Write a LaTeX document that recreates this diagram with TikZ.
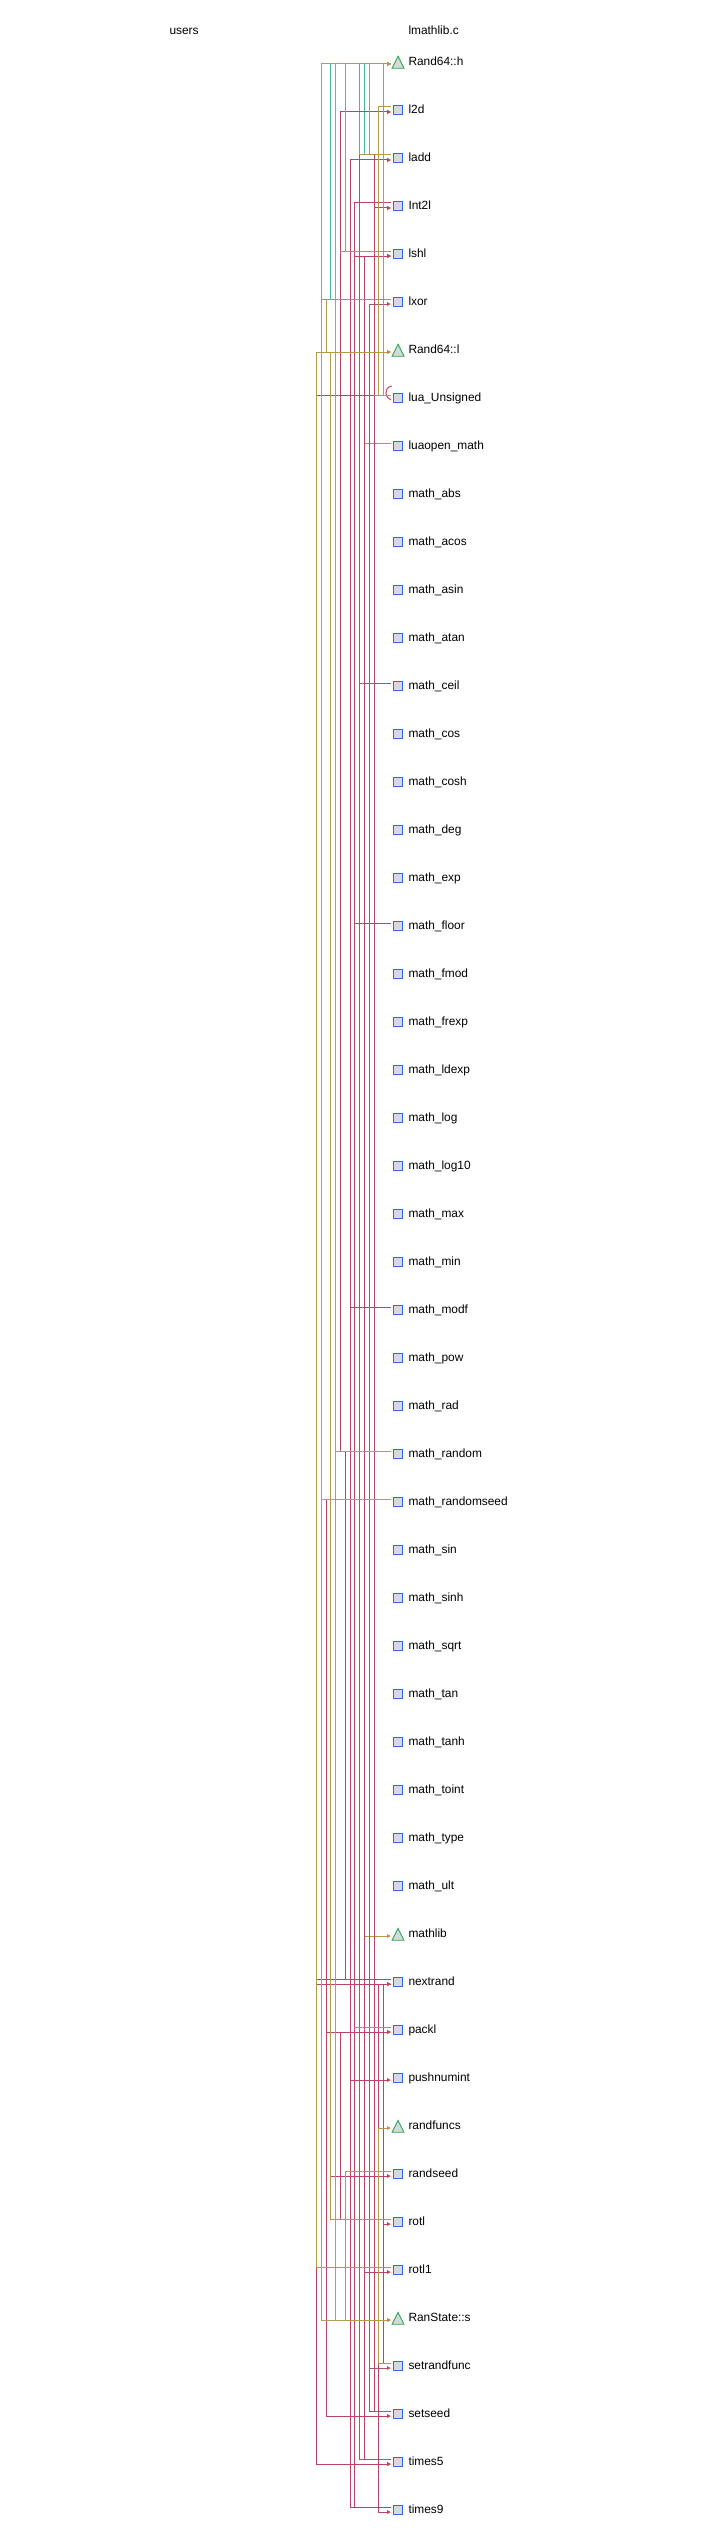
\documentclass[tikz,border=0pt]{standalone}
\usepackage{fontspec}
\setmainfont{Liberation Sans}
\usetikzlibrary{arrows.meta,shapes.geometric}

\definecolor{linegold}{HTML}{B59A45}
\definecolor{linegrey}{HTML}{B0A060}
\definecolor{linered}{HTML}{BB4466}
\definecolor{linemauve}{HTML}{A8556C}
\definecolor{linegreen}{HTML}{44BB99}
\definecolor{boxblue}{HTML}{3366FF}
\definecolor{trigreen}{HTML}{22AA55}
\definecolor{rowfill}{HTML}{D8D8D8}

\tikzset{
    rowbox/.style={draw=boxblue, fill=rowfill, line width=0.9pt, minimum size=9pt, inner sep=0pt},
    rowtri/.style={draw=trigreen, fill=rowfill, line width=0.9pt, isosceles triangle, shape border rotate=90,
        isosceles triangle stretches, minimum width=12pt, minimum height=12pt, inner sep=0pt,
        anchor=lower side, yshift=-7.2pt},
    rowtext/.style={anchor=base west, inner sep=0pt, font=\fontsize{11.9}{14}\selectfont},
    wire/.style={line width=1pt},
    wiretip/.style={wire, -{Latex[length=4pt,width=4.5pt]}},
}

\begin{document}
\begin{tikzpicture}[x=1pt,y=-1pt]
    \useasboundingbox (0,0) rectangle (720,2542);
    % headers
    \node[rowtext] (users) at (169.3,35) {users};
    \node[rowtext] (file) at (408.3,35) {lmathlib.c};
    % tracks
    \foreach \trk/\x in {A/316.3,B/321.3,C/326.3,D/330.3,E/335.3,F/340.3,G/345.3,H/350.3,
        I/354.3,J/359.3,K/364.3,L/369.3,M/374.3,N/378.3,O/383.3}
        \coordinate (t\trk) at (\x,0);
    % rows
    \foreach \name/\txt/\kind [count=\i from 0] in {
        randh/Rand64::h/rowtri, l2d/l2d/rowbox, ladd/ladd/rowbox, Int2l/Int2l/rowbox, lshl/lshl/rowbox,
        lxor/lxor/rowbox, randl/Rand64::l/rowtri, unsigned/lua\_Unsigned/rowbox, luaopen/luaopen\_math/rowbox,
        mabs/math\_abs/rowbox, macos/math\_acos/rowbox, masin/math\_asin/rowbox, matan/math\_atan/rowbox,
        mceil/math\_ceil/rowbox, mcos/math\_cos/rowbox, mcosh/math\_cosh/rowbox, mdeg/math\_deg/rowbox,
        mexp/math\_exp/rowbox, mfloor/math\_floor/rowbox, mfmod/math\_fmod/rowbox, mfrexp/math\_frexp/rowbox,
        mldexp/math\_ldexp/rowbox, mlog/math\_log/rowbox, mlogten/math\_log10/rowbox, mmax/math\_max/rowbox,
        mmin/math\_min/rowbox, mmodf/math\_modf/rowbox, mpow/math\_pow/rowbox, mrad/math\_rad/rowbox,
        mrandom/math\_random/rowbox, mseed/math\_randomseed/rowbox, msin/math\_sin/rowbox, msinh/math\_sinh/rowbox,
        msqrt/math\_sqrt/rowbox, mtan/math\_tan/rowbox, mtanh/math\_tanh/rowbox, mtoint/math\_toint/rowbox,
        mtype/math\_type/rowbox, mult/math\_ult/rowbox, mathlib/mathlib/rowtri, nextrand/nextrand/rowbox,
        packl/packl/rowbox, pushnum/pushnumint/rowbox, randfuncs/randfuncs/rowtri, randseed/randseed/rowbox,
        rotl/rotl/rowbox, rotlone/rotl1/rowbox, ranstate/RanState::s/rowtri, setrand/setrandfunc/rowbox,
        setseed/setseed/rowbox, timesf/times5/rowbox, timesn/times9/rowbox}
    {
        \pgfmathsetmacro{\y}{64+48*\i}
        \node[\kind] (\name) at (398,\y-2.5) {};
        \node[rowtext] (\name txt) at (408.3,\y+1.3) {\txt};
        \coordinate (o\name) at (391,\y-5);
        \coordinate (a\name) at (391,\y);
    }
    % green, under the rest
    \foreach \src/\trk/\dst in {ladd/J/randh, ladd/K/randh}
        \draw[wire, linegreen] (o\src) -- (o\src -| t\trk) -- (a\dst -| t\trk) -- (a\dst);
    \draw[wire, linegold] (oluaopen) -- (oluaopen -| tK) -- (amathlib -| tK);
    \draw[wiretip, linegold] (amathlib -| tK) -- (amathlib);
    % red
    \foreach \src/\trk/\dst in {unsigned/A/nextrand, nextrand/A/timesf, rotlone/A/timesf, mseed/C/setseed,
        mseed/C/packl, rotl/D/randseed, lshl/F/l2d, mrandom/F/l2d, rotl/F/packl, mmodf/H/ladd, timesn/H/ladd,
        timesn/H/pushnum, Int2l/I/lshl, mfloor/I/lshl, timesf/K/lshl, timesf/K/rotlone, ladd/M/Int2l,
        setseed/M/Int2l, setrand/O/nextrand, setrand/O/rotl}
        \draw[wiretip, linered] (o\src) -- (o\src -| t\trk) -- (a\dst -| t\trk) -- (a\dst);
    \draw[wiretip, linered] (anextrand) -- (anextrand -| tN) -- (atimesn -| tN) -- (atimesn);
    \foreach \src/\trk/\dst in {setseed/L/lxor, setseed/L/setrand}
        \draw[wiretip, linemauve] (o\src) -- (o\src -| t\trk) -- (a\dst -| t\trk) -- (a\dst);
    \foreach \src/\trk/\dst in {ladd/J/timesf, mceil/J/timesf}
        \draw[wire, linemauve] (o\src) -- (o\src -| t\trk) -- (o\dst -| t\trk) -- (o\dst);
    \foreach \src/\trk/\dst in {timesn/I/Int2l, mrandom/G/nextrand}
        \draw[wire, linered] (o\src) -- (o\src -| t\trk) -- (o\dst -| t\trk) -- (o\dst);
    \coordinate (loopend) at (391.7,386);
    \draw[wire, linered] (aunsigned) .. controls (385,398) and (383,388) .. (loopend);
    % gold
    \foreach \src/\trk/\dst in {mseed/B/randh, mseed/B/ranstate, mrandom/E/randh, mrandom/E/ranstate}
        \draw[wiretip, linegrey] (o\src) -- (o\src -| t\trk) -- (a\dst -| t\trk) -- (a\dst);
    \foreach \src/\trk/\dst in {rotl/D/randl, rotlone/A/randl, lxor/C/randl, lshl/G/randh, randseed/G/ranstate,
        ladd/L/randh, unsigned/O/randh, setrand/N/randfuncs}
        \draw[wiretip, linegold] (o\src) -- (o\src -| t\trk) -- (a\dst -| t\trk) -- (a\dst);
    \draw[wire, linegold] (ol2d) -- (ol2d -| tN) -- (ounsigned -| tN) -- (ounsigned);
    \draw[wire, linegold] (oladd) -- (oladd -| tJ);
    \draw[wire, linegold] (olshl) -- (olshl -| tF);
    \draw[wire, linegold] (ounsigned) -- (ounsigned -| tM);
    % green, on top
    \draw[wire, linegreen] (olxor) -- (olxor -| tD) -- (arandh -| tD);
    \draw[wire, linegreen] (olxor) -- (olxor -| tB);
    \draw[wire, linegreen] (opackl) -- (opackl -| tI);
\end{tikzpicture}
\end{document}
